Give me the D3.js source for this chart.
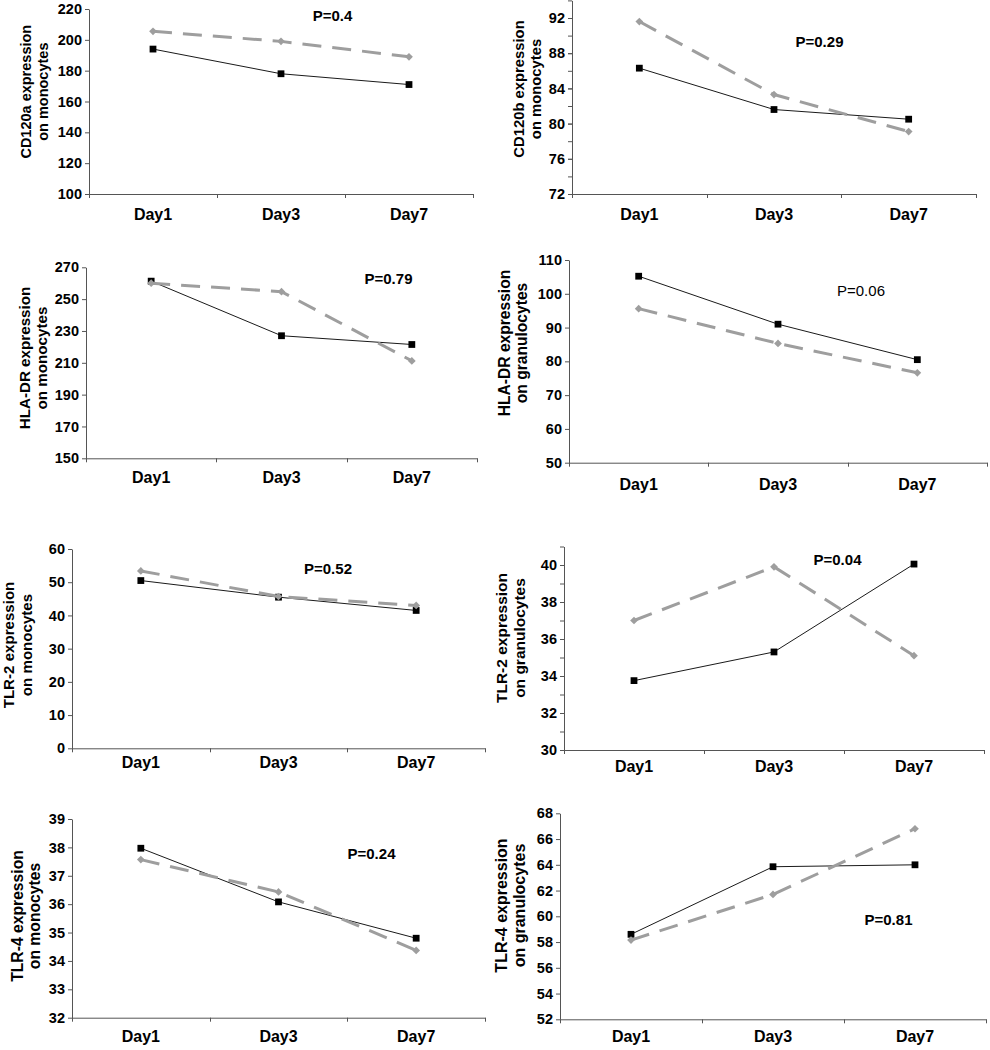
<!DOCTYPE html>
<html><head><meta charset="utf-8">
<script src="https://cdn.jsdelivr.net/npm/d3@7"></script>
<style>
body{margin:0;background:#fff}
svg{display:block}
text{font-family:"Liberation Sans",Arial,Helvetica,sans-serif}
</style>
</head><body>
<svg id="c" width="990" height="1050"></svg>
<script>
// ---------- data ----------
const days = ["Day1", "Day3", "Day7"];
const titlesLine1 = ["CD120a expression", "CD120b expression", "HLA-DR expression", "HLA-DR expression",
                     "TLR-2 expression", "TLR-2 expression", "TLR-4 expression", "TLR-4 expression"];
const titlesLine2 = ["on monocytes", "on monocytes", "on monocytes", "on granulocytes",
                     "on monocytes", "on granulocytes", "on monocytes", "on granulocytes"];
const pValues = ["P=0.4", "P=0.29", "P=0.79", "P=0.06", "P=0.52", "P=0.04", "P=0.24", "P=0.81"];

// solid black series (square markers)
const cd120aMonoSolid = [194, 178, 171];
const cd120bMonoSolid = [86.3, 81.6, 80.5];
const hladrMonoSolid  = [261.3, 227, 221.5];
const hladrGranSolid  = [105.2, 91, 80.5];
const tlr2MonoSolid   = [50.5, 45.5, 41.5];
const tlr2GranSolid   = [33.75, 35.3, 40.05];
const tlr4MonoSolid   = [37.97, 36.08, 34.8];
const tlr4GranSolid   = [58.6, 63.85, 64.0];

// dashed grey series (diamond markers)
const cd120aMonoDashed = [205.5, 199, 189];
const cd120bMonoDashed = [91.6, 83.3, 79.1];
const hladrMonoDashed  = [260, 254.7, 211.2];
const hladrGranDashed  = [95.6, 85.3, 76.6];
const tlr2MonoDashed   = [53.4, 45.7, 43.0];
const tlr2GranDashed   = [37.0, 39.9, 35.1];
const tlr4MonoDashed   = [37.57, 36.43, 34.37];
const tlr4GranDashed   = [58.15, 61.7, 66.8];

// y tick labels
const cd120aTicks = [100, 120, 140, 160, 180, 200, 220];
const cd120bTicks = [72, 76, 80, 84, 88, 92];
const cd120bMinor = [72, 74, 76, 78, 80, 82, 84, 86, 88, 90, 92, 94];
const hladrMonoTicks = [150, 170, 190, 210, 230, 250, 270];
const hladrGranTicks = [50, 60, 70, 80, 90, 100, 110];
const tlr2MonoTicks = [0, 10, 20, 30, 40, 50, 60];
const tlr2GranTicks = [30, 32, 34, 36, 38, 40];
const tlr2GranMinor = [30, 31, 32, 33, 34, 35, 36, 37, 38, 39, 40, 41];
const tlr4MonoTicks = [32, 33, 34, 35, 36, 37, 38, 39];
const tlr4GranTicks = [52, 54, 56, 58, 60, 62, 64, 66, 68];

const solidSeries  = [cd120aMonoSolid, cd120bMonoSolid, hladrMonoSolid, hladrGranSolid,
                      tlr2MonoSolid, tlr2GranSolid, tlr4MonoSolid, tlr4GranSolid];
const dashedSeries = [cd120aMonoDashed, cd120bMonoDashed, hladrMonoDashed, hladrGranDashed,
                      tlr2MonoDashed, tlr2GranDashed, tlr4MonoDashed, tlr4GranDashed];
const tickSets  = [cd120aTicks, cd120bTicks, hladrMonoTicks, hladrGranTicks,
                   tlr2MonoTicks, tlr2GranTicks, tlr4MonoTicks, tlr4GranTicks];
const minorSets = [null, cd120bMinor, null, null, null, tlr2GranMinor, null, null];

// ---------- layout (pixels) ----------
const layout = [
  {left: 89,  right: 473, bottom: 194,    top: 9,     tb1: 30.5,  tb2: 47.5,  tcy: 91.7,  tfs: 14.5, xdy: 26,   px: 332.5, py: 15.5, pw: "bold"},
  {left: 572, right: 976, bottom: 194,    top: 0.4,   tb1: 524,   tb2: 540.5, tcy: 89,    tfs: 14.8, xdy: 26,   px: 819.5, py: 42,   pw: "bold"},
  {left: 86,  right: 477, bottom: 458.3,  top: 267.3, tb1: 29.5,  tb2: 46.8,  tcy: 358,   tfs: 15.2, xdy: 25,   px: 388.5, py: 279,  pw: "bold"},
  {left: 569, right: 987, bottom: 462.7,  top: 260,   tb1: 509.5, tb2: 527,   tcy: 343,   tfs: 15.6, xdy: 27.3, px: 861,   py: 291,  pw: "normal"},
  {left: 72,  right: 485, bottom: 748.3,  top: 549,   tb1: 14,    tb2: 31.8,  tcy: 645,   tfs: 15.1, xdy: 20,   px: 328,   py: 569,  pw: "bold"},
  {left: 564, right: 984, bottom: 750,    top: 546.5, tb1: 507.2, tb2: 524.5, tcy: 638,   tfs: 15.5, xdy: 21.7, px: 837.5, py: 560,  pw: "bold"},
  {left: 72,  right: 485, bottom: 1017.7, top: 819,   tb1: 22.8,  tb2: 40,    tcy: 916,   tfs: 15.7, xdy: 24,   px: 371.5, py: 854,  pw: "bold"},
  {left: 560, right: 986, bottom: 1019.3, top: 813.3, tb1: 507.2, tb2: 524.5, tcy: 905.5, tfs: 16,   xdy: 22.4, px: 888.5, py: 920,  pw: "bold"}
];

const axisColor = "#555";
const greyColor = "#9e9e9e";

const svg = d3.select("#c");

layout.forEach((L, i) => {
  const ticks = tickSets[i];
  const minor = minorSets[i];
  const y = d3.scaleLinear()
    .domain(d3.extent(minor || ticks))
    .range([L.bottom, L.top]);
  const x = d3.scaleBand().domain(days).range([L.left, L.right]);
  const cx = d => x(d) + x.bandwidth() / 2;

  const g = svg.append("g");

  // y axis
  const ya = g.append("g")
    .attr("transform", `translate(${L.left},0)`)
    .call(d3.axisLeft(y).tickValues(ticks).tickSize(4).tickSizeOuter(0).tickPadding(3).tickFormat(d3.format("d")));
  if (minor) {
    g.append("g")
      .attr("transform", `translate(${L.left},0)`)
      .call(d3.axisLeft(y).tickValues(minor).tickSize(4).tickSizeOuter(0).tickFormat(""))
      .call(s => s.select(".domain").remove())
      .selectAll("line").attr("stroke", axisColor);
  }
  ya.select(".domain").attr("stroke", axisColor);
  ya.selectAll(".tick line").attr("stroke", axisColor);
  ya.selectAll("text")
    .attr("font-size", 14.5).attr("font-weight", "bold").attr("fill", "#000")
    .attr("font-family", "'Liberation Sans',Arial,sans-serif");

  // x axis
  const xa = g.append("g")
    .attr("transform", `translate(0,${L.bottom})`)
    .call(d3.axisBottom(x).tickSize(0).tickSizeOuter(0));
  xa.select(".domain").attr("stroke", axisColor);
  xa.selectAll("text")
    .attr("y", L.xdy).attr("dy", 0)
    .attr("font-size", 16).attr("font-weight", "bold").attr("fill", "#000")
    .attr("font-family", "'Liberation Sans',Arial,sans-serif");
  const edges = days.map(d => x(d)).concat([x.range()[1]]);
  g.append("g").selectAll("line").data(edges).join("line")
    .attr("x1", d => Math.round(d) + 0.5).attr("x2", d => Math.round(d) + 0.5)
    .attr("y1", L.bottom).attr("y2", L.bottom + 4)
    .attr("stroke", axisColor);

  // y axis title
  const title = g.append("text")
    .attr("transform", `rotate(-90)`)
    .attr("text-anchor", "middle")
    .attr("font-size", L.tfs).attr("font-weight", "bold").attr("fill", "#000");
  title.append("tspan").attr("x", -L.tcy).attr("y", L.tb1).text(titlesLine1[i]);
  title.append("tspan").attr("x", -L.tcy).attr("y", L.tb2).text(titlesLine2[i]);

  // solid black series
  const solid = solidSeries[i];
  g.append("path")
    .datum(solid)
    .attr("fill", "none").attr("stroke", "#1a1a1a").attr("stroke-width", 1)
    .attr("d", d3.line().x((v, k) => cx(days[k])).y(v => y(v)));
  g.append("g").selectAll("path").data(solid).join("path")
    .attr("transform", (v, k) => `translate(${cx(days[k])},${y(v)})`)
    .attr("d", d3.symbol(d3.symbolSquare, 46)())
    .attr("fill", "#000");

  // dashed grey series
  const dashed = dashedSeries[i];
  g.append("path")
    .datum(dashed)
    .attr("fill", "none").attr("stroke", greyColor).attr("stroke-width", 3)
    .attr("stroke-dasharray", "19,11")
    .attr("d", d3.line().x((v, k) => cx(days[k])).y(v => y(v)));
  g.append("g").selectAll("path").data(dashed).join("path")
    .attr("transform", (v, k) => `translate(${cx(days[k])},${y(v)}) rotate(45)`)
    .attr("d", d3.symbol(d3.symbolSquare, 30)())
    .attr("fill", greyColor);

  // p value
  g.append("text")
    .attr("x", L.px).attr("y", L.py).attr("dy", "0.35em")
    .attr("text-anchor", "middle")
    .attr("font-size", 15).attr("font-weight", L.pw).attr("fill", "#000")
    .text(pValues[i]);
});
</script>
</body></html>
